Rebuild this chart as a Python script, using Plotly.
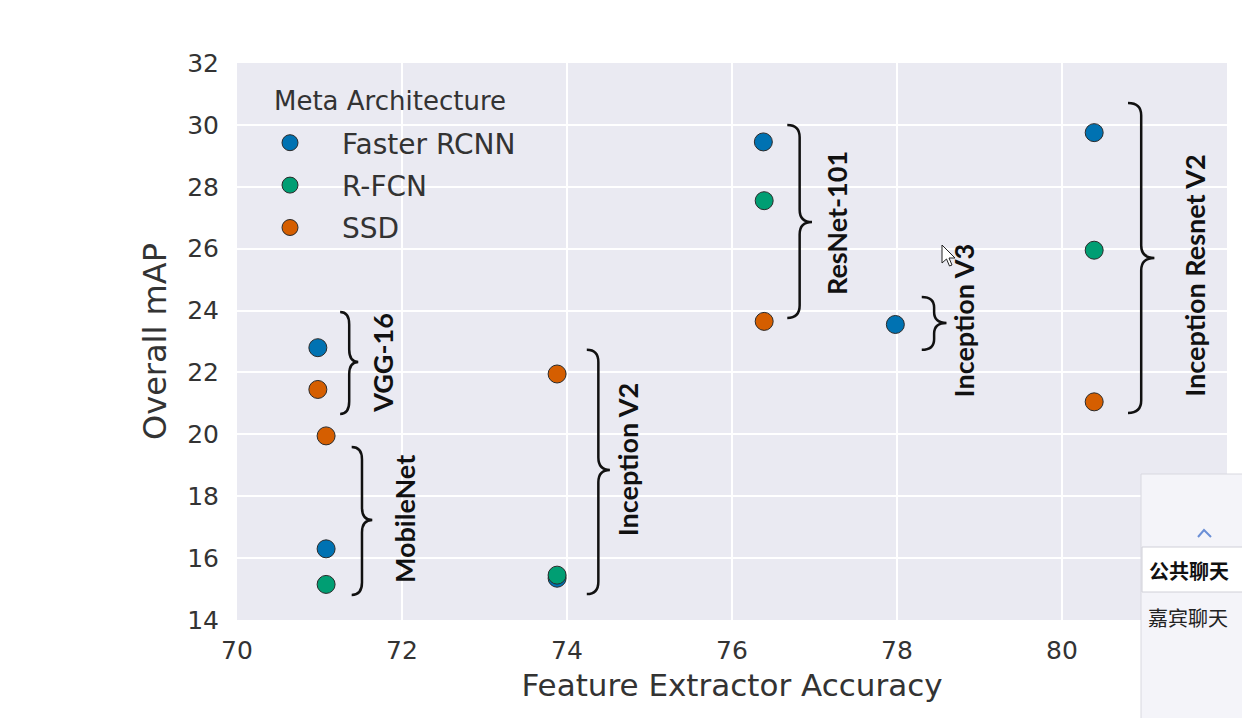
import plotly.graph_objects as go

# ---------------- data ----------------
series_names = ["Faster RCNN", "R-FCN", "SSD"]
series_colors = ["#0072B2", "#009E73", "#D55E00"]
faster_x = [70.98, 71.08, 73.88, 76.38, 77.98, 80.39]
faster_y = [22.8, 16.3, 15.35, 29.45, 23.55, 29.75]
rfcn_x = [71.08, 73.88, 76.39, 80.39]
rfcn_y = [15.15, 15.45, 27.55, 25.95]
ssd_x = [70.98, 71.08, 73.88, 76.39, 80.39]
ssd_y = [21.45, 19.95, 21.95, 23.65, 21.05]

# feature extractor groups: label, brace left x, brace tip x, top y, bottom y, tip y
group_labels = ["VGG-16", "MobileNet", "Inception V2", "ResNet-101", "Inception V3", "Inception Resnet V2"]
brace_x0 = [71.25, 71.39, 74.24, 76.67, 78.30, 80.80]
brace_x1 = [71.47, 71.64, 74.52, 76.97, 78.60, 81.12]
brace_top = [23.95, 19.59, 22.73, 30.00, 24.44, 30.71]
brace_bot = [20.66, 14.81, 14.84, 23.76, 22.73, 20.69]
brace_tip = [22.34, 17.23, 18.85, 26.86, 23.60, 25.70]
label_x = [71.77, 72.04, 74.73, 77.27, 78.80, 81.61]
label_y = [22.31, 17.27, 19.17, 26.82, 23.65, 25.12]

x_ticks = [70, 72, 74, 76, 78, 80]
y_ticks = [14, 16, 18, 20, 22, 24, 26, 28, 30, 32]

W, H = 1242, 718
ML, MR, MT, MB = 237, 15, 63, 98
PW, PH = W - ML - MR, H - MT - MB


def px(xp):
    return (xp - ML) / PW


def py(yp):
    return (H - MB - yp) / PH


fig = go.Figure()
for name, color, xs, ys in zip(series_names, series_colors,
                               [faster_x, rfcn_x, ssd_x], [faster_y, rfcn_y, ssd_y]):
    fig.add_trace(go.Scatter(
        x=xs, y=ys, mode="markers", name=name, legendgroup=name,
        marker=dict(size=18, color=color, line=dict(color="#2a2a2a", width=1)),
    ))

shapes = []
annotations = []
for lab, x0, x1, yt, yb, yc, lx, ly in zip(group_labels, brace_x0, brace_x1, brace_top,
                                           brace_bot, brace_tip, label_x, label_y):
    xm = (x0 + x1) / 2
    r = min(0.4, (yt - yb) / 5)
    path = (f"M {x0},{yt} Q {xm},{yt} {xm},{yt - r} L {xm},{yc + r} "
            f"Q {xm},{yc} {x1},{yc} Q {xm},{yc} {xm},{yc - r} L {xm},{yb + r} "
            f"Q {xm},{yb} {x0},{yb}")
    shapes.append(dict(type="path", path=path, xref="x", yref="y",
                       line=dict(color="#111111", width=2.5)))
    annotations.append(dict(x=lx, y=ly, xref="x", yref="y", text=f"<b>{lab}</b>",
                            textangle=-90, showarrow=False,
                            font=dict(family="Lato, Open Sans, sans-serif", size=27, color="#111111")))

# legend title as text
annotations.append(dict(x=px(272), y=py(101), xref="paper", yref="paper", xanchor="left",
                        yanchor="middle", showarrow=False, text="Meta Architecture",
                        font=dict(family="DejaVu Sans", size=26, color="#333333")))

# mouse cursor (screen artifact in the reference)
cur = [(0, 0), (0, 18), (4.5, 14), (7.5, 21), (10, 20), (7, 13), (13, 13)]
cx, cy = 942, 245
cpath = "M " + " L ".join(f"{px(cx + a)},{py(cy + b)}" for a, b in cur) + " Z"
shapes.append(dict(type="path", xref="paper", yref="paper", layer="above", path=cpath,
                   fillcolor="white", line=dict(color="#222222", width=1)))

# chat overlay panel (screen artifact in the reference)
shapes.append(dict(type="rect", xref="paper", yref="paper", x0=px(1141), x1=px(1245),
                   y0=py(720), y1=py(474), fillcolor="#f4f4f9",
                   line=dict(color="#d8d8e0", width=1), layer="above"))
shapes.append(dict(type="rect", xref="paper", yref="paper", x0=px(1142), x1=px(1245),
                   y0=py(592), y1=py(547), fillcolor="#ffffff",
                   line=dict(color="#d0d0d8", width=1), layer="above"))
shapes.append(dict(type="path", xref="paper", yref="paper", layer="above",
                   path=f"M {px(1198)},{py(537)} L {px(1204)},{py(530)} L {px(1211)},{py(537)}",
                   line=dict(color="#6b8fd6", width=2)))
annotations.append(dict(x=px(1147), y=py(570), xref="paper", yref="paper", showarrow=False,
                        xanchor="left", yanchor="middle", text="<b>公共聊天</b>",
                        font=dict(family="Noto Sans CJK SC", size=20, color="#111111")))
annotations.append(dict(x=px(1146), y=py(617), xref="paper", yref="paper", showarrow=False,
                        xanchor="left", yanchor="middle", text="嘉宾聊天",
                        font=dict(family="Noto Sans CJK SC", size=20, color="#222222")))

axis_font = dict(family="DejaVu Sans", size=25, color="#333333")

fig.update_layout(
    width=W, height=H,
    margin=dict(l=ML, r=MR, t=MT, b=MB),
    paper_bgcolor="white", plot_bgcolor="#EAEAF2",
    shapes=shapes, annotations=annotations,
    legend=dict(
        x=px(238), y=py(118), xanchor="left", yanchor="top",
        bgcolor="rgba(0,0,0,0)", borderwidth=0,
        font=dict(family="DejaVu Sans", size=28, color="#333333"),
        tracegroupgap=3, itemwidth=94, traceorder="grouped",
    ),
    xaxis=dict(
        range=[70, 82], tickvals=x_ticks, ticktext=[str(v) for v in x_ticks],
        showgrid=True, gridcolor="white", gridwidth=2, zeroline=False, showline=False,
        ticks="outside", ticklen=8, tickcolor="rgba(0,0,0,0)", tickfont=axis_font,
        title=dict(text="Feature Extractor Accuracy",
                   font=dict(family="DejaVu Sans", size=31, color="#333333"), standoff=10),
    ),
    yaxis=dict(
        range=[14, 32], tickvals=y_ticks, ticktext=[str(v) for v in y_ticks],
        showgrid=True, gridcolor="white", gridwidth=2, zeroline=False, showline=False,
        ticks="outside", ticklen=12, tickcolor="rgba(0,0,0,0)", tickfont=axis_font,
        title=dict(text="Overall mAP",
                   font=dict(family="DejaVu Sans", size=32, color="#333333"), standoff=10),
    ),
)

fig.write_html("out.html")
